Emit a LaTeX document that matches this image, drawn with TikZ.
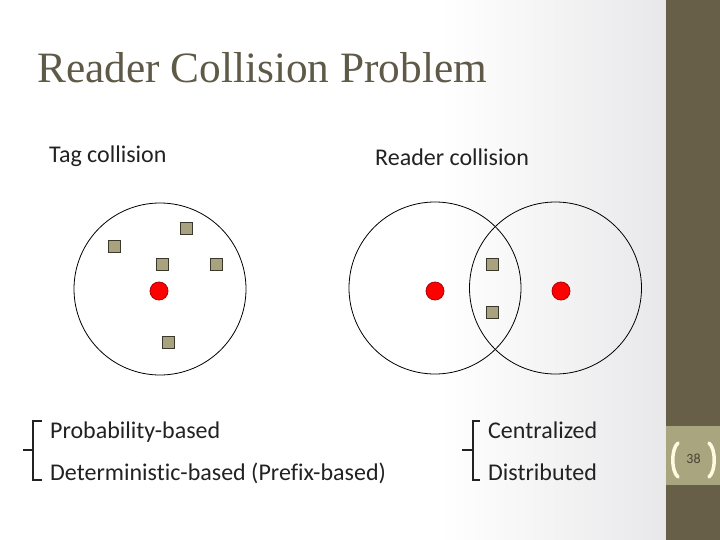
\documentclass[tikz,border=0pt]{standalone}
\usepackage{fontspec}
\setmainfont{Carlito}[RawFeature={-liga;-clig;-dlig}]
\newfontfamily\titlefont{Liberation Serif}
\definecolor{olive}{HTML}{675F47}
\definecolor{band}{HTML}{A9A57F}
\definecolor{cream}{HTML}{FFFBE0}
\definecolor{titlecol}{HTML}{5F5A48}
\definecolor{txt}{HTML}{222222}
\definecolor{tagfill}{HTML}{A9A27F}
\definecolor{tagedge}{HTML}{3A382A}
\definecolor{rdfill}{HTML}{FF0000}
\definecolor{rdedge}{HTML}{B00000}
\definecolor{bggray}{HTML}{E8E8EA}
\begin{document}
\begin{tikzpicture}[x=1pt,y=-1pt,
  rangecirc/.style={draw=black,line width=0.8pt,circle,minimum size=172pt,inner sep=0pt},
  tagbox/.style={draw=tagedge,fill=tagfill,line width=0.8pt,minimum size=12pt,inner sep=0pt},
  readerdot/.style={draw=rdedge,fill=rdfill,line width=0.8pt,circle,minimum size=18pt,inner sep=0pt},
  lbl/.style={anchor=base west,text=txt,font=\fontsize{24}{28}\selectfont,inner sep=0pt},
  bracestyle/.style={draw=txt,line width=2pt},
  pagebr/.style={draw=cream,line width=3.5pt,line cap=round}]
\useasboundingbox (0,0) rectangle (720,540);
\fill[white] (0,0) rectangle (720,540);
\shade[left color=white,right color=bggray] (440,0) rectangle (667,540);
\fill[olive] (666,0) rectangle (720,540);
\fill[band] (666,426) rectangle (720,485);
\draw[pagebr] (678,443) .. controls (671,449) and (671,471) .. (678,477);
\draw[pagebr] (709,443) .. controls (716,449) and (716,471) .. (709,477);
\node[text=olive!70!black,font=\fontsize{14}{16}\selectfont,inner sep=0pt] (pg) at (693.5,459) {38};
% title
\node[anchor=base west,text=titlecol,font=\titlefont\fontsize{43.3}{50}\selectfont,inner sep=0pt] (title) at (37,83) {Reader Collision Problem};
% labels
\node[lbl] (tagc) at (49,163) {Tag collision};
\node[lbl] (readc) at (375,166) {Reader collision};
% tag collision
\node[rangecirc] (c1) at (160,289) {};
\node[tagbox] (t1) at (114.5,246) {};
\node[tagbox] (t2) at (186,228) {};
\node[tagbox] (t3) at (162,264) {};
\node[tagbox] (t4) at (216,264) {};
\node[tagbox] (t5) at (168,342) {};
\node[readerdot] (r0) at (159,291) {};
% reader collision
\node[rangecirc] (c2) at (435,288) {};
\node[rangecirc] (c3) at (555.5,288) {};
\node[readerdot] (r1) at (435,291) {};
\node[readerdot] (r2) at (561,291) {};
\node[tagbox] (t6) at (492,264) {};
\node[tagbox] (t7) at (492,312) {};
% lists
\node[lbl] (p1) at (50,438) {Probability-based};
\node[lbl] (p2) at (50,480) {Deterministic-based (Prefix-based)};
\node[lbl] (q1) at (488,438) {Centralized};
\node[lbl] (q2) at (488,480) {Distributed};
\coordinate (b1t) at (42,421);
\coordinate (b1b) at (42,480);
\coordinate (b1m) at (23,450);
\draw[bracestyle] (b1t) -- (33,421) -- (33,480) -- (b1b);
\draw[bracestyle] (b1m) -- (33,450);
\coordinate (b2t) at (480,421);
\coordinate (b2b) at (480,480);
\coordinate (b2m) at (462,450);
\draw[bracestyle] (b2t) -- (473,421) -- (473,480) -- (b2b);
\draw[bracestyle] (b2m) -- (473,450);
\end{tikzpicture}
\end{document}
